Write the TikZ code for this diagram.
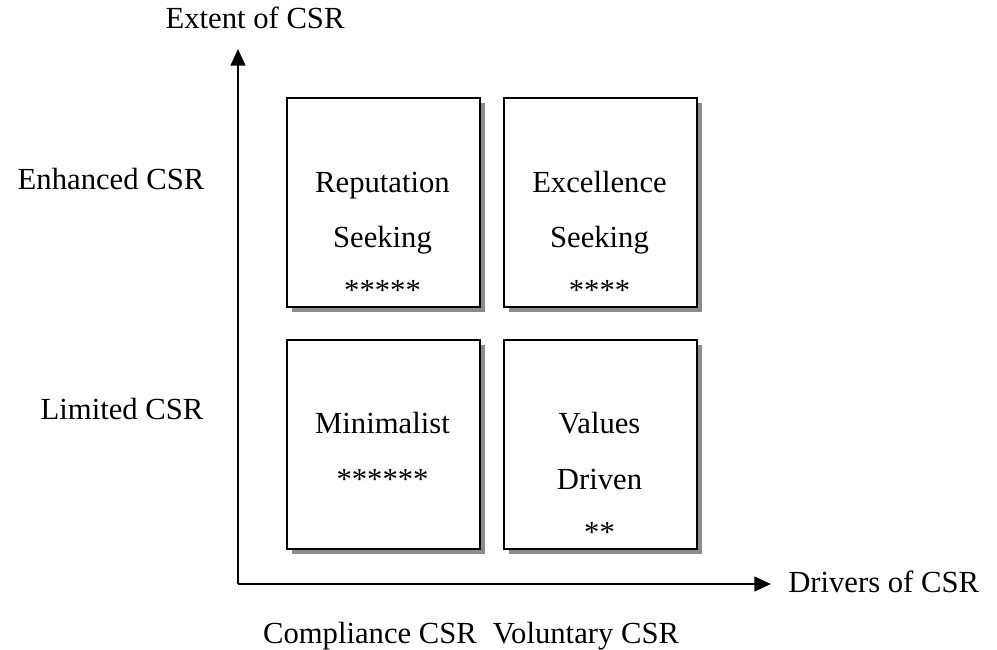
\documentclass[tikz,border=0pt]{standalone}
\usepackage{fontspec}
\setmainfont{Liberation Serif}
\usetikzlibrary{arrows.meta}
\begin{document}
\begin{tikzpicture}[x=0.75pt,y=-0.75pt,
  lbl/.style={font=\fontsize{23}{28}\selectfont, inner sep=0pt, anchor=base},
  quad/.style={draw=black, line width=1.5pt, fill=white, minimum width=193*0.75pt, minimum height=209*0.75pt, anchor=north west, inner sep=0pt},
  shade/.style={fill=black!45},
  axis/.style={line width=1.7pt, -{Triangle[length=12.5pt,width=11pt]}}]
\useasboundingbox (0,0) rectangle (997,650);
% shadows
\fill[shade] (292,103) rectangle (485,312);
\fill[shade] (509,103) rectangle (702,312);
\fill[shade] (292,345) rectangle (485,554);
\fill[shade] (509,345) rectangle (702,554);
% boxes
\node[quad] (rs) at (286,97) {};
\node[quad] (es) at (503,97) {};
\node[quad] (mi) at (286,339) {};
\node[quad] (vd) at (503,339) {};
% axes
\coordinate (o) at (238,584);
\coordinate (ytip) at (238,49);
\coordinate (xtip) at (771,584);
\draw[axis] (o) -- (ytip);
\draw[axis] (o) -- (xtip);
% box texts
\node[lbl] (t1) at (382.5,192) {Reputation};
\node[lbl] (t2) at (382.5,247) {Seeking};
\node[lbl] (t3) at (382.5,300) {*****};
\node[lbl] (t4) at (599.5,192) {Excellence};
\node[lbl] (t5) at (599.5,247) {Seeking};
\node[lbl] (t6) at (599.5,300) {****};
\node[lbl] (t7) at (382.5,433) {Minimalist};
\node[lbl] (t8) at (382.5,489) {******};
\node[lbl] (t9) at (599.5,433) {Values};
\node[lbl] (t10) at (599.5,489) {Driven};
\node[lbl] (t11) at (599.5,542) {**};
% axis labels
\node[lbl] (ey) at (255,28) {Extent of CSR};
\node[lbl] (enh) at (111,189) {Enhanced CSR};
\node[lbl] (lim) at (122,419) {Limited CSR};
\node[lbl, anchor=base west] (dx) at (788,592) {Drivers of CSR};
\node[lbl] (cc) at (370,643) {Compliance CSR};
\node[lbl] (vc) at (586,643) {Voluntary CSR};
\end{tikzpicture}
\end{document}
